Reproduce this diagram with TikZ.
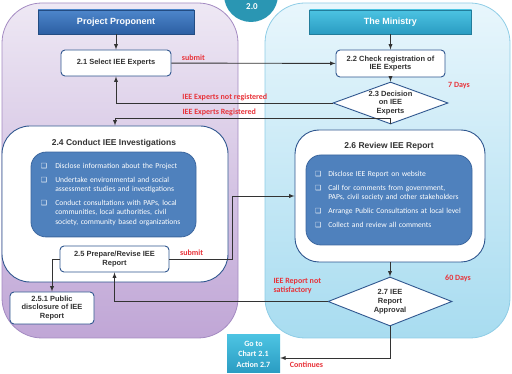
\documentclass[tikz,border=0pt]{standalone}
\usepackage{fontspec}
\setmainfont{Liberation Sans}
\newfontfamily\calibfont{Carlito}
\newfontfamily\symfont{DejaVu Sans}
\usetikzlibrary{shapes.geometric,calc}
\definecolor{boxline}{HTML}{30578F}
\definecolor{textgray}{HTML}{333333}
\definecolor{linegray}{HTML}{333333}
\definecolor{redlbl}{HTML}{E8333A}
\definecolor{lavtop}{HTML}{EEE8F4}
\definecolor{lavbot}{HTML}{C0A6D6}
\definecolor{lavline}{HTML}{A48BC2}
\definecolor{skytop}{HTML}{E8F6FC}
\definecolor{skybot}{HTML}{A8DCF0}
\definecolor{skyline}{HTML}{8FCDE6}
\definecolor{pptop}{HTML}{4D86CB}
\definecolor{ppbot}{HTML}{2C5FA3}
\definecolor{mintop}{HTML}{4CC3E2}
\definecolor{minbot}{HTML}{2A9CC2}
\definecolor{badgecol}{HTML}{2A96B3}
\definecolor{innerfill}{HTML}{4F81BD}
\definecolor{innerline}{HTML}{3C679F}
\newcommand{\sq}{{\symfont\fontsize{7}{7}\selectfont ❑}}

\begin{document}
\begin{tikzpicture}[x=1pt,y=-1pt,
  box/.style={draw=boxline,fill=white,rounded corners=4pt,line width=0.9pt,align=center,
    font=\fontsize{7.5}{8.8}\selectfont\bfseries,text=textgray,inner sep=1pt},
  bigbox/.style={draw=boxline,fill=white,rounded corners=28pt,line width=0.9pt},
  title/.style={font=\fontsize{8.5}{9}\selectfont\bfseries,text=textgray},
  inner/.style={draw=innerline,fill=innerfill,rounded corners=15pt,line width=0.8pt,text=white,align=left},
  decide/.style={diamond,draw=boxline,fill=white,line width=0.9pt,inner sep=0pt,align=center,
    font=\fontsize{7.5}{8.7}\selectfont\bfseries,text=textgray},
  header/.style={draw=#1bot!80!black,top color=#1top,bottom color=#1bot,text=white,
    font=\fontsize{9}{10}\selectfont\bfseries,minimum height=24pt},
  lbl/.style={text=redlbl,font=\calibfont\fontsize{8}{9}\selectfont\bfseries,inner sep=1pt},
  conn/.style={draw=linegray,line width=0.9pt,-latex}
]
\useasboundingbox (0,0) rectangle (512,374);

% panels
\draw[rounded corners=40pt,top color=lavtop,bottom color=lavbot,draw=lavline,line width=0.8pt] (2,3) rectangle (238,338);
\draw[rounded corners=40pt,top color=skytop,bottom color=skybot,draw=skyline,line width=0.8pt] (265,3) rectangle (510,338);
\fill[badgecol] (251,-5) circle[radius=27pt];
\node[text=white,font=\calibfont\fontsize{9}{10}\selectfont\bfseries] (t20) at (252,6.5) {2.0};

\node[header=pp,minimum width=156pt] (hpp) at (116,22) {Project Proponent};
\node[header=min,minimum width=162pt] (hmin) at (390.5,22) {The Ministry};

\node[box,minimum width=110pt,minimum height=26pt] (b21) at (116,63) {2.1 Select IEE Experts};
\node[box,minimum width=109pt,minimum height=27pt] (b22) at (390.5,63.5) {2.2 Check registration of\\IEE Experts};
\node[decide,shape aspect=2.7,minimum width=115pt,minimum height=42pt] (d23) at (390.5,103) {2.3 Decision\\on IEE\\Experts};
\node[lbl,anchor=west] (t7) at (447,86) {7 Days};

% 2.4
\node[bigbox,minimum width=226pt,minimum height=156pt] (b24) at (115,204) {};
\node[title] (t24) at (114,143) {2.4 Conduct IEE Investigations};
\node[inner,minimum width=165pt,minimum height=83pt,text width=145pt,inner sep=10pt,
  font=\calibfont\fontsize{7.6}{9.3}\selectfont] (i24) at (113.5,194.5) {%
\begin{tabular}{@{}l@{\hspace{8pt}}p{131pt}@{}}
\sq & Disclose information about the Project\\[4.5pt]
\sq & Undertake environmental and social\newline assessment studies and investigations\\[4.5pt]
\sq & Conduct consultations with PAPs, local\newline communities, local authorities, civil\newline society, community based organizations
\end{tabular}};
\node[box,minimum width=109pt,minimum height=26pt] (b25) at (114.5,259) {2.5 Prepare/Revise IEE\\Report};
\node[box,minimum width=84pt,minimum height=32pt] (b251) at (52,308) {2.5.1 Public\\disclosure of IEE\\Report};

% 2.6
\node[bigbox,rounded corners=24pt,minimum width=190pt,minimum height=132pt] (b26) at (390,196) {};
\node[title] (t26) at (389,146) {2.6 Review IEE Report};
\node[inner,minimum width=166pt,minimum height=90pt,text width=148pt,inner sep=9pt,
  font=\calibfont\fontsize{7.6}{9.4}\selectfont] (i26) at (389,200) {%
\begin{tabular}{@{}l@{\hspace{7pt}}p{140pt}@{}}
\sq & Disclose IEE Report on website\\[4.5pt]
\sq & Call for comments from government,\newline PAPs, civil society and other stakeholders\\[4.5pt]
\sq & Arrange Public Consultations at local level\\[4.5pt]
\sq & Collect and review all comments
\end{tabular}};
\node[decide,shape aspect=2.5,minimum width=124pt,minimum height=49pt] (d27) at (390,301.5) {2.7 IEE\\Report\\Approval};
\node[lbl,anchor=west] (t60) at (444,278) {60 Days};

\node[top color=mintop,bottom color=minbot,text=white,align=center,minimum width=53pt,minimum height=38pt,
  font=\calibfont\fontsize{8}{10.5}\selectfont\bfseries,inner sep=1pt] (goto) at (253.5,354) {Go to\\Chart 2.1\\Action 2.7};

% connectors
\draw[conn] (hpp) -- (b21);
\draw[conn] (hmin) -- (b22);
\draw[conn] (b21) -- (b22) node[lbl,pos=0,anchor=south west,xshift=9pt,yshift=1pt] {submit};
\draw[conn] (b22) -- (d23);
\draw[conn] (d23.west) -| (b21.south) node[lbl,pos=0.35,anchor=south west,yshift=1pt] {IEE Experts not registered};
\draw[conn] (d23.south) -- ++(0,-6) -| (b24.north) node[lbl,pos=0.38,anchor=south west,yshift=1pt] {IEE Experts Registered};
\draw[conn] (b25.west) -| (b251.north);
\draw[conn] (b25.east) -- ++(63,0) |- (b26.west);
\node[lbl,anchor=south west] (ts2) at (179,257) {submit};
\draw[conn] (b26) -- (d27);
\draw[conn] (d27.west) -| (b25.south) node[lbl,pos=0,anchor=south east,align=left,xshift=-5pt,yshift=6pt] {IEE Report not\\satisfactory};
\draw[conn] (d27.south) |- ($(goto.east)+(0,4)$) node[lbl,pos=0.88,anchor=north,yshift=-2pt] {Continues};
\end{tikzpicture}
\end{document}
